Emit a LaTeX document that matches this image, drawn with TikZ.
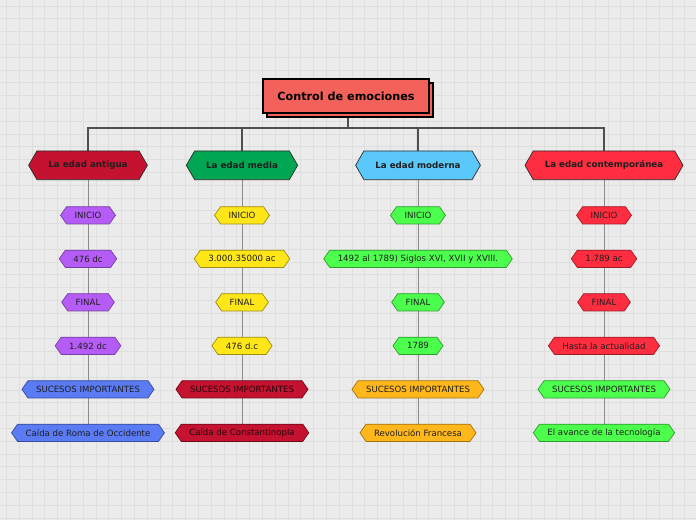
\documentclass[tikz,border=0pt]{standalone}
\usepackage{fontspec}
\setmainfont{DejaVu Sans}
\usetikzlibrary{shapes.symbols,shadows,backgrounds}
\definecolor{paper}{HTML}{EBEBEB}
\definecolor{gridgray}{HTML}{DEDEDE}
\definecolor{ink}{HTML}{1E1E1E}
\definecolor{edge}{HTML}{2B2B2B}
\definecolor{treegray}{HTML}{4F4F4F}
\definecolor{stemgray}{HTML}{8C8C8C}
\definecolor{salmon}{HTML}{F2615A}
\definecolor{crimson}{HTML}{C41230}
\definecolor{crimsonedge}{HTML}{6E0A1B}
\definecolor{forest}{HTML}{00A651}
\definecolor{sky}{HTML}{5BC8FB}
\definecolor{scarlet}{HTML}{FF2D40}
\definecolor{scarletedge}{HTML}{9E1C28}
\definecolor{lila}{HTML}{B65CF6}
\definecolor{lilaedge}{HTML}{7440A0}
\definecolor{azure}{HTML}{5B7BF5}
\definecolor{azureedge}{HTML}{37499A}
\definecolor{lemon}{HTML}{FFE619}
\definecolor{lemonedge}{HTML}{9C8C12}
\definecolor{lime}{HTML}{4DFF4D}
\definecolor{limeedge}{HTML}{2F9A2F}
\definecolor{amber}{HTML}{FFB71C}
\definecolor{amberedge}{HTML}{A0730F}
\tikzset{
  hexa/.style={signal,signal to=east and west,line width=.7pt,text=ink},
  root/.style={draw=black,fill=salmon,line width=1.6pt,minimum width=166pt,minimum height=34pt,
    font=\bfseries\fontsize{11.2}{13}\selectfont,copy shadow={shadow xshift=4pt,shadow yshift=-4pt}},
  era/.style={hexa,draw=edge,signal pointer angle=120,minimum height=28.7pt,inner xsep=11.5pt,
    font=\bfseries\fontsize{8.7}{10}\selectfont},
  item/.style 2 args={hexa,fill=#1,draw=#2,signal pointer angle=110,minimum height=17.3pt,
    inner xsep=8pt,inner ysep=0pt,font=\fontsize{8.6}{9}\selectfont},
  tree/.style={draw=treegray,line width=1.3pt},
  stem/.style={draw=stemgray,line width=.9pt},
}
\begin{document}
\begin{tikzpicture}[x=1pt,y=-1pt]
  \useasboundingbox (0,0) rectangle (696,520);
  \begin{scope}[on background layer]
    \fill[paper] (0,0) rectangle (696,520);
    \foreach \i in {0,...,54}
      \draw[gridgray,line width=.7pt] ({6.3+12.8*\i},0) -- ++(0,520);
    \foreach \i in {0,...,40}
      \draw[gridgray,line width=.7pt] (0,{6+12.8*\i}) -- ++(696,0);
  \end{scope}

  \node[root] (root) at (346,96) {Control de emociones};

  % eras
  \node[era,fill=crimson] (era1) at (88,165.3) {La edad antigua};
  \node[era,fill=forest] (era2) at (242,165.3) {La edad media};
  \node[era,fill=sky] (era3) at (418,165.3) {La edad moderna};
  \node[era,fill=scarlet] (era4) at (604,165.3) {La edad contemporánea};

  % la edad antigua
  \foreach \t [count=\r] in {INICIO,476 dc,FINAL,1.492 dc}
    \node[item={lila}{lilaedge}] (a\r) at (88,{171.8+43.5*\r}) {\t};
  \node[item={azure}{azureedge}] (a5) at (88,389.3) {SUCESOS IMPORTANTES};
  \node[item={azure}{azureedge}] (a6) at (88,432.8) {Caída de Roma de Occidente};

  % la edad media
  \foreach \t [count=\r] in {INICIO,3.000.35000 ac,FINAL,476 d.c}
    \node[item={lemon}{lemonedge}] (m\r) at (242,{171.8+43.5*\r}) {\t};
  \node[item={crimson}{crimsonedge},text=black!80!crimson] (m5) at (242,389.3) {SUCESOS IMPORTANTES};
  \node[item={crimson}{crimsonedge},text=black!80!crimson] (m6) at (242,432.8) {Caída de Constantinopla};

  % la edad moderna
  \foreach \t [count=\r] in {INICIO,{1492 al 1789) Siglos XVI, XVII y XVIII.},FINAL,1789}
    \node[item={lime}{limeedge}] (n\r) at (418,{171.8+43.5*\r}) {\t};
  \node[item={amber}{amberedge}] (n5) at (418,389.3) {SUCESOS IMPORTANTES};
  \node[item={amber}{amberedge}] (n6) at (418,432.8) {Revolución Francesa};

  % la edad contemporanea
  \foreach \t [count=\r] in {INICIO,1.789 ac,FINAL,Hasta la actualidad}
    \node[item={scarlet}{scarletedge}] (c\r) at (604,{171.8+43.5*\r}) {\t};
  \node[item={lime}{limeedge}] (c5) at (604,389.3) {SUCESOS IMPORTANTES};
  \node[item={lime}{limeedge}] (c6) at (604,432.8) {El avance de la tecnología};

  \begin{scope}[on background layer]
    \coordinate (hub) at (348,128);
    \draw[tree] (root.south -| hub) -- (hub);
    \draw[tree] (era1.north) |- (hub) -| (era4.north);
    \draw[tree] (era2.north) -- (era2.north |- hub);
    \draw[tree] (era3.north) -- (era3.north |- hub);
    \draw[stem] (era1.south) -- (a6.north);
    \draw[stem] (era2.south) -- (m6.north);
    \draw[stem] (era3.south) -- (n6.north);
    \draw[stem] (era4.south) -- (c6.north);
  \end{scope}
\end{tikzpicture}
\end{document}
